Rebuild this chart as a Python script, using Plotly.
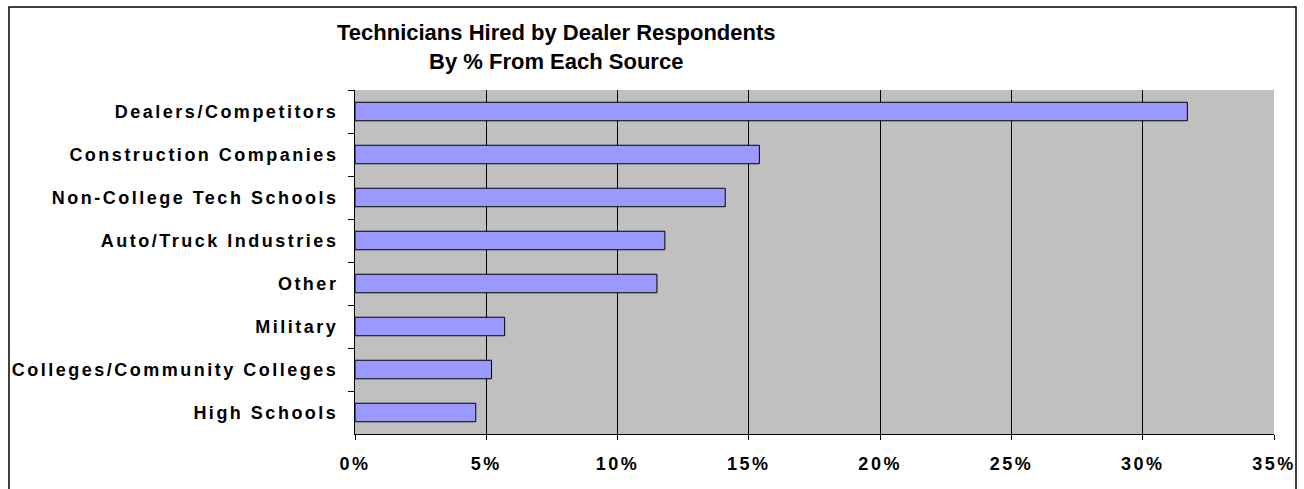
import plotly.graph_objects as go

# Hiring sources, listed top to bottom
sources = [
    "Dealers/Competitors",
    "Construction Companies",
    "Non-College Tech Schools",
    "Auto/Truck Industries",
    "Other",
    "Military",
    "Colleges/Community Colleges",
    "High Schools",
]
# Share of technicians hired from each source (%)
share_pct = [31.7, 15.4, 14.1, 11.8, 11.5, 5.7, 5.2, 4.6]

x_ticks = [0, 5, 10, 15, 20, 25, 30, 35]
x_tick_labels = ["0%", "5%", "10%", "15%", "20%", "25%", "30%", "35%"]

title_lines = ["Technicians Hired by Dealer Respondents", "By % From Each Source"]

W, H = 1304, 489
M_L, M_R, M_T, M_B = 355, 30, 90, 55
plot_w = W - M_L - M_R
plot_h = H - M_T - M_B

FONT = "Liberation Sans, Arial, sans-serif"

fig = go.Figure(
    go.Bar(
        x=share_pct,
        y=sources,
        orientation="h",
        marker=dict(color="#9999FF", line=dict(color="#000000", width=1)),
        hoverinfo="x+y",
    )
)


def px_to_paper_x(px):
    return (px - M_L) / plot_w


def px_to_paper_y(py):
    return (H - M_B - py) / plot_h


# Outer chart frame (open at the bottom edge of the page)
fig.add_shape(
    type="rect",
    xref="paper", yref="paper",
    x0=px_to_paper_x(9), x1=px_to_paper_x(1296),
    y0=px_to_paper_y(H + 10), y1=px_to_paper_y(7),
    line=dict(color="#000000", width=1.5),
    fillcolor="rgba(0,0,0,0)",
    layer="below",
)

# Two-line chart title
fig.add_annotation(
    text="<br>".join(title_lines),
    xref="paper", yref="paper",
    x=px_to_paper_x(556.5), xanchor="center",
    y=px_to_paper_y(18), yanchor="top",
    showarrow=False,
    align="center",
    font=dict(family=FONT, size=22, color="#000000", weight="bold"),
)

fig.update_layout(
    width=W,
    height=H,
    autosize=False,
    margin=dict(l=M_L, r=M_R, t=M_T, b=M_B, pad=0),
    paper_bgcolor="#FFFFFF",
    plot_bgcolor="#C0C0C0",
    showlegend=False,
    bargap=0.57,
    font=dict(family=FONT, color="#000000"),
    xaxis=dict(
        range=[0, 35],
        tickmode="array",
        tickvals=x_ticks,
        ticktext=x_tick_labels,
        showgrid=True,
        gridcolor="#000000",
        gridwidth=1,
        zeroline=False,
        showline=True,
        linecolor="#000000",
        linewidth=1,
        ticks="outside",
        ticklen=5,
        tickcolor="#000000",
        tickwidth=1,
        tickfont=dict(family=FONT, size=18, color="#000000", weight="bold"),
        ticklabelstandoff=8,
        fixedrange=True,
    ),
    yaxis=dict(
        type="category",
        categoryorder="array",
        categoryarray=sources,
        autorange="reversed",
        showgrid=False,
        zeroline=False,
        showline=True,
        linecolor="#000000",
        linewidth=1,
        ticks="outside",
        tickson="boundaries",
        ticklen=6,
        tickcolor="#000000",
        tickwidth=1,
        tickfont=dict(family=FONT, size=18, color="#000000", weight="bold"),
        ticklabelstandoff=12,
        fixedrange=True,
    ),
)

# Widen the tick label tracking the way the original chart renders it
spacing_js = """
var gd = document.getElementById('{plot_id}');
function spaceTicks() {
  gd.querySelectorAll('.xtick text, .ytick text').forEach(function (t) {
    t.style.letterSpacing = '2.5px';
  });
}
spaceTicks();
gd.on('plotly_afterplot', spaceTicks);
"""

fig.write_html("out.html", post_script=spacing_js, config={"displayModeBar": False})
